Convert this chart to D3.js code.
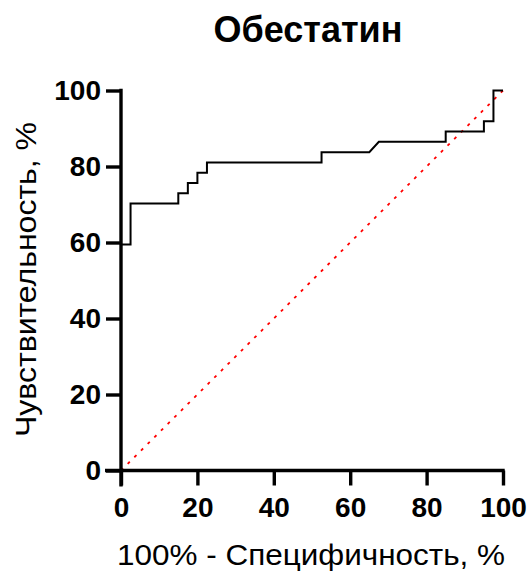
<!DOCTYPE html>
<html><head><meta charset="utf-8">
<script src="https://cdn.jsdelivr.net/npm/d3@7"></script>
<style>body{margin:0;background:#fff}svg{display:block}</style>
</head><body>
<script>
const title = "Обестатин";
const xLabel = "100% - Специфичность, %";
const yLabel = "Чувствительность, %";
const ticks = [0, 20, 40, 60, 80, 100];
// ROC curve points (100% - specificity, sensitivity)
const fpr = [0, 0, 2.5, 2.5, 15, 15, 17.5, 17.5, 20, 20, 22.5, 22.5, 52.5, 52.5, 65, 67.5, 85, 85, 95, 95, 97.5, 97.5, 100];
const tpr = [59.46, 59.46, 59.46, 70.27, 70.27, 72.97, 72.97, 75.68, 75.68, 78.38, 78.38, 81.08, 81.08, 83.78, 83.78, 86.49, 86.49, 89.19, 89.19, 91.89, 91.89, 100, 100];
const refLine = [[0, 0], [100, 100]];

const W = 528, H = 571;
const svg = d3.select("body").append("svg").attr("width", W).attr("height", H);
const x = d3.scaleLinear().domain([0, 100]).range([121, 503]);
const y = d3.scaleLinear().domain([0, 100]).range([470.5, 90.5]);
const font = "'Liberation Sans', Arial, sans-serif";

svg.append("text").attr("x", 308).attr("y", 42).attr("text-anchor", "middle")
  .attr("font-family", font).attr("font-weight", "bold").attr("font-size", 36).text(title);

// reference diagonal
svg.append("line").attr("x1", x(refLine[0][0])).attr("y1", y(refLine[0][1]))
  .attr("x2", x(refLine[1][0])).attr("y2", y(refLine[1][1]))
  .attr("stroke", "#ff0000").attr("stroke-width", 1.8).attr("stroke-dasharray", "3,6.4");

// ROC curve
const pts = fpr.map((v, i) => [v, tpr[i]]);
svg.append("path").datum(pts)
  .attr("d", d3.line().x(d => x(d[0])).y(d => y(d[1])))
  .attr("fill", "none").attr("stroke", "#000").attr("stroke-width", 2);

const xAxis = svg.append("g").attr("transform", `translate(0,${y(0)})`)
  .call(d3.axisBottom(x).tickValues(ticks).tickSize(15).tickPadding(12).tickSizeOuter(0));
const yAxis = svg.append("g").attr("transform", `translate(${x(0)},0)`)
  .call(d3.axisLeft(y).tickValues(ticks).tickSize(15).tickPadding(5).tickSizeOuter(0));
[xAxis, yAxis].forEach(g => {
  g.select(".domain").attr("stroke", "#000").attr("stroke-width", 3.4);
  g.selectAll(".tick line").attr("stroke", "#000").attr("stroke-width", 3.4);
  g.selectAll(".tick text").attr("font-family", font).attr("font-weight", "bold")
    .attr("font-size", 28).attr("fill", "#000");
});
// extend domains to cover line caps
xAxis.select(".domain").attr("d", `M${x(0)-16},0H${x(100)+1.7}`);
yAxis.select(".domain").attr("d", `M0,${y(100)-1.7}V${y(0)+16}`);

svg.append("text").attr("x", 311).attr("y", 565).attr("text-anchor", "middle")
  .attr("font-family", font).attr("font-size", 29)
  .attr("textLength", 388).attr("lengthAdjust", "spacingAndGlyphs").text(xLabel);
svg.append("text").attr("transform", `translate(36,279.5) rotate(-90)`)
  .attr("text-anchor", "middle")
  .attr("font-family", font).attr("font-size", 30)
  .attr("textLength", 315).attr("lengthAdjust", "spacingAndGlyphs").text(yLabel);
</script>
</body></html>
